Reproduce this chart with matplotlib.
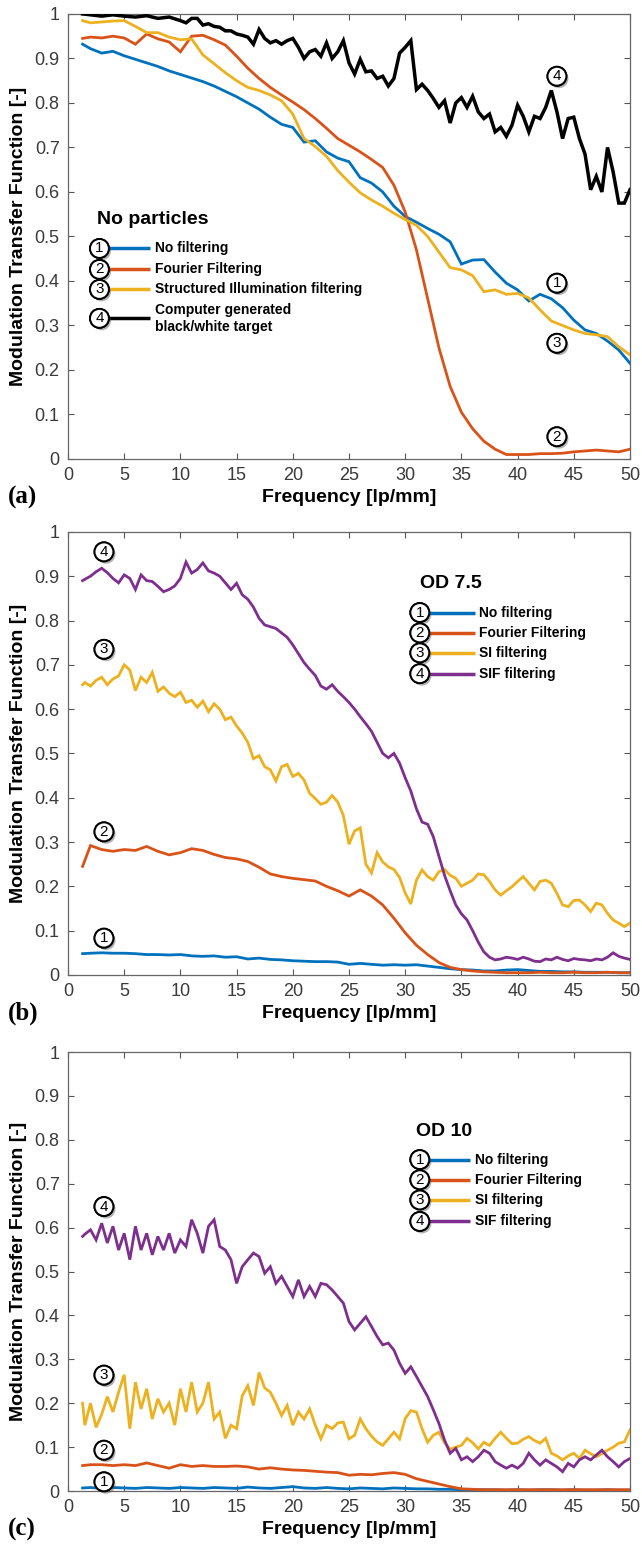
import numpy as np
import matplotlib.pyplot as plt
import matplotlib.patheffects as pe

plt.rcParams['font.family'] = ['Liberation Sans', 'DejaVu Sans']

# MATLAB default line colours
BLUE   = '#0072BD'
ORANGE = '#D95319'
YELLOW = '#EDB120'
PURPLE = '#7E2F8E'
BLACK  = '#000000'

# frequency grids (lp/mm) at which the curves were read
FREQ_1 = [1.3] + list(range(2, 51))                       # 1 lp/mm steps
FREQ_H = [1.3] + [1.5 + 0.5 * i for i in range(98)]       # 0.5 lp/mm steps
FREQ_BW = [1.3, 2, 3, 4, 5, 6, 7, 8, 9, 10] + [10.5 + 0.5 * i for i in range(80)]

# ── (a) no particles ──────────────────────────
a_nofilt = [0.932, 0.922, 0.912, 0.916, 0.906, 0.898, 0.890, 0.882, 0.872, 0.864,
            0.856, 0.848, 0.838, 0.826, 0.814, 0.800, 0.786, 0.768, 0.752, 0.745,
            0.712, 0.715, 0.690, 0.676, 0.668, 0.632, 0.620, 0.600, 0.568, 0.545,
            0.532, 0.518, 0.505, 0.488, 0.438, 0.447, 0.448, 0.420, 0.395, 0.380,
            0.355, 0.370, 0.360, 0.340, 0.312, 0.290, 0.282, 0.265, 0.245, 0.215]
a_fourier = [0.945, 0.948, 0.946, 0.950, 0.946, 0.932, 0.955, 0.944, 0.937, 0.915,
             0.950, 0.952, 0.942, 0.930, 0.905, 0.878, 0.855, 0.835, 0.818, 0.802,
             0.785, 0.765, 0.743, 0.720, 0.705, 0.690, 0.673, 0.655, 0.615, 0.555,
             0.470, 0.360, 0.250, 0.163, 0.105, 0.068, 0.040, 0.022, 0.010, 0.010,
             0.010, 0.012, 0.012, 0.013, 0.016, 0.018, 0.020, 0.018, 0.016, 0.022]
a_si = [0.985, 0.980, 0.982, 0.984, 0.985, 0.972, 0.958, 0.958, 0.948, 0.942,
        0.944, 0.908, 0.888, 0.868, 0.850, 0.835, 0.828, 0.818, 0.805, 0.775,
        0.720, 0.702, 0.680, 0.648, 0.622, 0.598, 0.582, 0.568, 0.552, 0.538,
        0.525, 0.500, 0.465, 0.430, 0.425, 0.412, 0.376, 0.380, 0.370, 0.372,
        0.362, 0.335, 0.310, 0.300, 0.290, 0.282, 0.279, 0.275, 0.252, 0.234]
a_target = [1.000, 0.998, 0.995, 0.998, 0.995, 0.993, 0.996, 0.990, 0.993, 0.985,
            0.980, 0.990, 0.990, 0.975, 0.978, 0.972, 0.970, 0.962, 0.962, 0.955,
            0.952, 0.948, 0.932, 0.965, 0.945, 0.935, 0.940, 0.932, 0.940, 0.945,
            0.925, 0.900, 0.915, 0.920, 0.905, 0.935, 0.900, 0.915, 0.940, 0.890,
            0.865, 0.898, 0.870, 0.872, 0.855, 0.860, 0.838, 0.855, 0.912, 0.925,
            0.940, 0.830, 0.842, 0.828, 0.810, 0.790, 0.805, 0.755, 0.800, 0.812,
            0.790, 0.815, 0.780, 0.765, 0.775, 0.735, 0.745, 0.725, 0.750, 0.795,
            0.770, 0.735, 0.770, 0.765, 0.790, 0.828, 0.780, 0.720, 0.765, 0.768,
            0.720, 0.685, 0.605, 0.635, 0.600, 0.700, 0.645, 0.575, 0.575, 0.605]

# ── (b) OD 7.5 ────────────────────────────────
b_nofilt = [0.048, 0.049, 0.050, 0.049, 0.049, 0.048, 0.046, 0.046, 0.045, 0.046,
            0.043, 0.042, 0.043, 0.040, 0.041, 0.036, 0.038, 0.035, 0.034, 0.032,
            0.031, 0.030, 0.030, 0.029, 0.024, 0.026, 0.024, 0.022, 0.023, 0.022,
            0.023, 0.020, 0.017, 0.014, 0.012, 0.011, 0.009, 0.009, 0.011, 0.012,
            0.010, 0.008, 0.008, 0.007, 0.007, 0.006, 0.006, 0.006, 0.005, 0.005]
b_fourier = [0.245, 0.292, 0.283, 0.279, 0.283, 0.281, 0.290, 0.279, 0.271, 0.276,
             0.285, 0.281, 0.272, 0.265, 0.262, 0.256, 0.243, 0.228, 0.222, 0.218,
             0.215, 0.212, 0.200, 0.190, 0.178, 0.192, 0.178, 0.158, 0.128, 0.095,
             0.067, 0.046, 0.028, 0.017, 0.012, 0.009, 0.007, 0.006, 0.005, 0.005,
             0.005, 0.006, 0.005, 0.005, 0.006, 0.005, 0.005, 0.006, 0.005, 0.005]
b_si = [0.655, 0.660, 0.652, 0.665, 0.672, 0.655, 0.668, 0.675, 0.700, 0.688,
        0.642, 0.672, 0.660, 0.683, 0.640, 0.650, 0.636, 0.628, 0.638, 0.615,
        0.620, 0.604, 0.618, 0.594, 0.612, 0.600, 0.576, 0.582, 0.562, 0.546,
        0.525, 0.488, 0.495, 0.470, 0.463, 0.438, 0.470, 0.475, 0.448, 0.455,
        0.440, 0.410, 0.398, 0.385, 0.390, 0.405, 0.390, 0.360, 0.295, 0.325,
        0.332, 0.250, 0.230, 0.276, 0.255, 0.244, 0.238, 0.220, 0.185, 0.160,
        0.214, 0.237, 0.222, 0.214, 0.233, 0.238, 0.225, 0.218, 0.200, 0.207,
        0.214, 0.228, 0.226, 0.211, 0.192, 0.180, 0.190, 0.199, 0.211, 0.222,
        0.207, 0.192, 0.211, 0.214, 0.207, 0.184, 0.158, 0.154, 0.168, 0.169,
        0.158, 0.143, 0.162, 0.158, 0.139, 0.124, 0.117, 0.109, 0.117]
b_sif = [0.890, 0.893, 0.900, 0.910, 0.918, 0.908, 0.895, 0.885, 0.903, 0.895,
         0.870, 0.903, 0.890, 0.888, 0.877, 0.865, 0.870, 0.878, 0.895, 0.932,
         0.907, 0.915, 0.930, 0.912, 0.907, 0.900, 0.885, 0.870, 0.884, 0.858,
         0.848, 0.830, 0.805, 0.790, 0.786, 0.782, 0.772, 0.762, 0.745, 0.725,
         0.705, 0.690, 0.676, 0.652, 0.645, 0.655, 0.640, 0.628, 0.615, 0.600,
         0.583, 0.567, 0.550, 0.525, 0.500, 0.490, 0.500, 0.478, 0.445, 0.415,
         0.375, 0.345, 0.340, 0.312, 0.268, 0.225, 0.190, 0.158, 0.138, 0.124,
         0.100, 0.074, 0.052, 0.040, 0.034, 0.036, 0.040, 0.038, 0.035, 0.040,
         0.036, 0.031, 0.030, 0.036, 0.034, 0.040, 0.035, 0.032, 0.037, 0.035,
         0.034, 0.032, 0.036, 0.034, 0.040, 0.050, 0.042, 0.038, 0.035]

# ── (c) OD 10 ─────────────────────────────────
c_nofilt = [0.007, 0.008, 0.006, 0.008, 0.007, 0.006, 0.008, 0.007, 0.006, 0.008,
            0.007, 0.006, 0.008, 0.007, 0.006, 0.009, 0.007, 0.006, 0.008, 0.010,
            0.007, 0.006, 0.008, 0.006, 0.005, 0.007, 0.006, 0.005, 0.007, 0.006,
            0.005, 0.005, 0.004, 0.004, 0.003, 0.003, 0.003, 0.003, 0.002, 0.003,
            0.002, 0.003, 0.003, 0.002, 0.003, 0.002, 0.002, 0.003, 0.002, 0.002]
c_fourier = [0.058, 0.060, 0.060, 0.058, 0.060, 0.058, 0.064, 0.058, 0.052, 0.060,
             0.056, 0.058, 0.056, 0.056, 0.057, 0.055, 0.050, 0.053, 0.050, 0.048,
             0.047, 0.045, 0.043, 0.042, 0.036, 0.038, 0.037, 0.040, 0.042, 0.038,
             0.028, 0.022, 0.016, 0.010, 0.005, 0.004, 0.003, 0.003, 0.003, 0.003,
             0.003, 0.003, 0.003, 0.003, 0.003, 0.003, 0.003, 0.003, 0.003, 0.003]
c_si = [0.200, 0.150, 0.200, 0.145, 0.175, 0.215, 0.180, 0.225, 0.265, 0.142,
        0.248, 0.187, 0.233, 0.164, 0.210, 0.180, 0.200, 0.150, 0.233, 0.180,
        0.248, 0.180, 0.200, 0.248, 0.164, 0.180, 0.120, 0.150, 0.142, 0.217,
        0.240, 0.195, 0.270, 0.235, 0.225, 0.200, 0.172, 0.195, 0.150, 0.180,
        0.164, 0.187, 0.150, 0.119, 0.150, 0.142, 0.155, 0.157, 0.119, 0.127,
        0.164, 0.142, 0.125, 0.112, 0.104, 0.119, 0.134, 0.119, 0.165, 0.183,
        0.180, 0.142, 0.111, 0.127, 0.134, 0.110, 0.095, 0.100, 0.104, 0.120,
        0.110, 0.096, 0.111, 0.104, 0.120, 0.134, 0.120, 0.108, 0.109, 0.118,
        0.124, 0.115, 0.109, 0.120, 0.086, 0.080, 0.071, 0.080, 0.086, 0.074,
        0.093, 0.085, 0.078, 0.085, 0.093, 0.100, 0.109, 0.112, 0.139]
c_sif = [0.580, 0.585, 0.595, 0.572, 0.610, 0.565, 0.603, 0.549, 0.587, 0.527,
         0.603, 0.549, 0.587, 0.538, 0.580, 0.549, 0.587, 0.542, 0.572, 0.557,
         0.618, 0.587, 0.542, 0.603, 0.618, 0.557, 0.549, 0.527, 0.473, 0.511,
         0.527, 0.542, 0.534, 0.496, 0.511, 0.473, 0.489, 0.466, 0.443, 0.481,
         0.443, 0.466, 0.443, 0.473, 0.470, 0.458, 0.443, 0.428, 0.386, 0.367,
         0.382, 0.397, 0.375, 0.352, 0.333, 0.337, 0.321, 0.291, 0.268, 0.283,
         0.261, 0.238, 0.215, 0.185, 0.154, 0.116, 0.086, 0.097, 0.071, 0.078,
         0.067, 0.078, 0.093, 0.086, 0.067, 0.059, 0.052, 0.059, 0.052, 0.063,
         0.086, 0.071, 0.059, 0.071, 0.063, 0.055, 0.044, 0.063, 0.055, 0.071,
         0.078, 0.071, 0.082, 0.093, 0.078, 0.067, 0.055, 0.067, 0.074]

LABELS_A = ['No filtering', 'Fourier Filtering', 'Structured Illumination filtering',
            'Computer generated\nblack/white target']
LABELS_BC = ['No filtering', 'Fourier Filtering', 'SI filtering', 'SIF filtering']

# panel definitions: curves (freq, values, colour, lw), on-curve markers,
# legend block (title, title pos, circle x, line x-range, text x, row heights)
PANELS = [
    dict(rect=(0.1059, 0.7035, 0.8754, 0.2875), letter='(a)',
         curves=[(FREQ_1, a_nofilt, BLUE, 2.0), (FREQ_1, a_fourier, ORANGE, 2.0),
                 (FREQ_1, a_si, YELLOW, 2.0), (FREQ_BW, a_target, BLACK, 2.5)],
         marks=[(43.5, 0.395), (43.5, 0.05), (43.5, 0.26), (43.5, 0.86)],
         title='No particles', title_xy=(2.6, 0.537), title_ha='left',
         circ_x=2.8, line_x=(3.6, 7.3), text_x=7.7, rows=[0.473, 0.426, 0.381, 0.316],
         labels=LABELS_A),
    dict(rect=(0.1059, 0.3702, 0.8754, 0.2862), letter='(b)',
         curves=[(FREQ_1, b_nofilt, BLUE, 2.0), (FREQ_1, b_fourier, ORANGE, 2.0),
                 (FREQ_H, b_si, YELLOW, 2.0), (FREQ_H, b_sif, PURPLE, 2.0)],
         marks=[(3.2, 0.083), (3.2, 0.323), (3.2, 0.735), (3.2, 0.955)],
         title='OD 7.5', title_xy=(34.1, 0.884), title_ha='center',
         circ_x=31.3, line_x=(32.0, 36.2), text_x=36.6, rows=[0.818, 0.772, 0.727, 0.680],
         labels=LABELS_BC),
    dict(rect=(0.1059, 0.0368, 0.8754, 0.2836), letter='(c)',
         curves=[(FREQ_1, c_nofilt, BLUE, 2.0), (FREQ_1, c_fourier, ORANGE, 2.0),
                 (FREQ_H, c_si, YELLOW, 2.0), (FREQ_H, c_sif, PURPLE, 2.0)],
         marks=[(3.2, 0.021), (3.2, 0.093), (3.2, 0.264), (3.2, 0.648)],
         title='OD 10', title_xy=(33.5, 0.819), title_ha='center',
         circ_x=31.3, line_x=(32.0, 35.8), text_x=36.2, rows=[0.755, 0.709, 0.663, 0.614],
         labels=LABELS_BC),
]
LEGEND_COLOURS = [BLUE, ORANGE, YELLOW]


def circled(ax, x, y, num):
    """Number in a white circle with a soft drop shadow (like the original callouts)."""
    t = ax.text(x, y, str(num), ha='center', va='center', fontsize=11, color='black',
                zorder=6, bbox=dict(boxstyle='circle,pad=0.16', fc='white', ec='black', lw=1.4))
    t.get_bbox_patch().set_path_effects(
        [pe.withSimplePatchShadow(offset=(1.5, -1.8), shadow_rgbFace='#555555', alpha=0.45),
         pe.Normal()])
    return t


fig = plt.figure(figsize=(6.42, 15.48), dpi=100)

for p in PANELS:
    ax = fig.add_axes(p['rect'])
    for fr, vals, col, lw in p['curves']:
        ax.plot(fr, vals, color=col, lw=lw, solid_joinstyle='miter', zorder=3)

    ax.set_xlim(0, 50)
    ax.set_ylim(0, 1)
    ax.set_xticks(np.arange(0, 51, 5))
    ax.set_yticks(np.arange(0, 1.01, 0.1))
    ax.set_yticklabels(['0'] + ['%.1f' % v for v in np.arange(0.1, 0.95, 0.1)] + ['1'])
    ax.tick_params(direction='in', top=True, right=True, length=4, width=0.8,
                   labelsize=13, labelcolor='#3a3a3a', color='#555555', pad=6)
    for s in ax.spines.values():
        s.set_color('#666666')
        s.set_linewidth(0.9)

    ax.set_xlabel('Frequency [lp/mm]', fontsize=14, fontweight='bold')
    ax.xaxis.set_label_coords(0.5, -0.068)
    ax.set_ylabel('Modulation Transfer Function [-]', fontsize=14, fontweight='bold')
    ax.yaxis.set_label_coords(-0.073, 0.5)

    # numbered callouts on the curves
    for i, (mx, my) in enumerate(p['marks']):
        circled(ax, mx, my, i + 1)

    # hand-drawn legend block
    colours = LEGEND_COLOURS + [p['curves'][3][2]]
    tx, ty = p['title_xy']
    ax.text(tx, ty, p['title'], ha=p['title_ha'], va='center', fontsize=14,
            fontweight='bold', zorder=5)
    for i, row in enumerate(p['rows']):
        ax.plot(p['line_x'], [row, row], color=colours[i], lw=2.5, zorder=4,
                solid_capstyle='butt')
        circled(ax, p['circ_x'], row, i + 1)
        ax.text(p['text_x'], row, p['labels'][i], ha='left', va='center', fontsize=10,
                fontweight='bold', linespacing=1.25, zorder=5)

    # panel letter, Times-like bold serif
    bottom_px = (1 - p['rect'][1]) * 1548
    fig.text(8 / 642, 1 - (bottom_px + 38) / 1548, p['letter'], ha='left', va='center',
             fontsize=18, fontweight='bold', family=['Liberation Serif', 'DejaVu Serif'])

fig.savefig('out.png', dpi=100)
